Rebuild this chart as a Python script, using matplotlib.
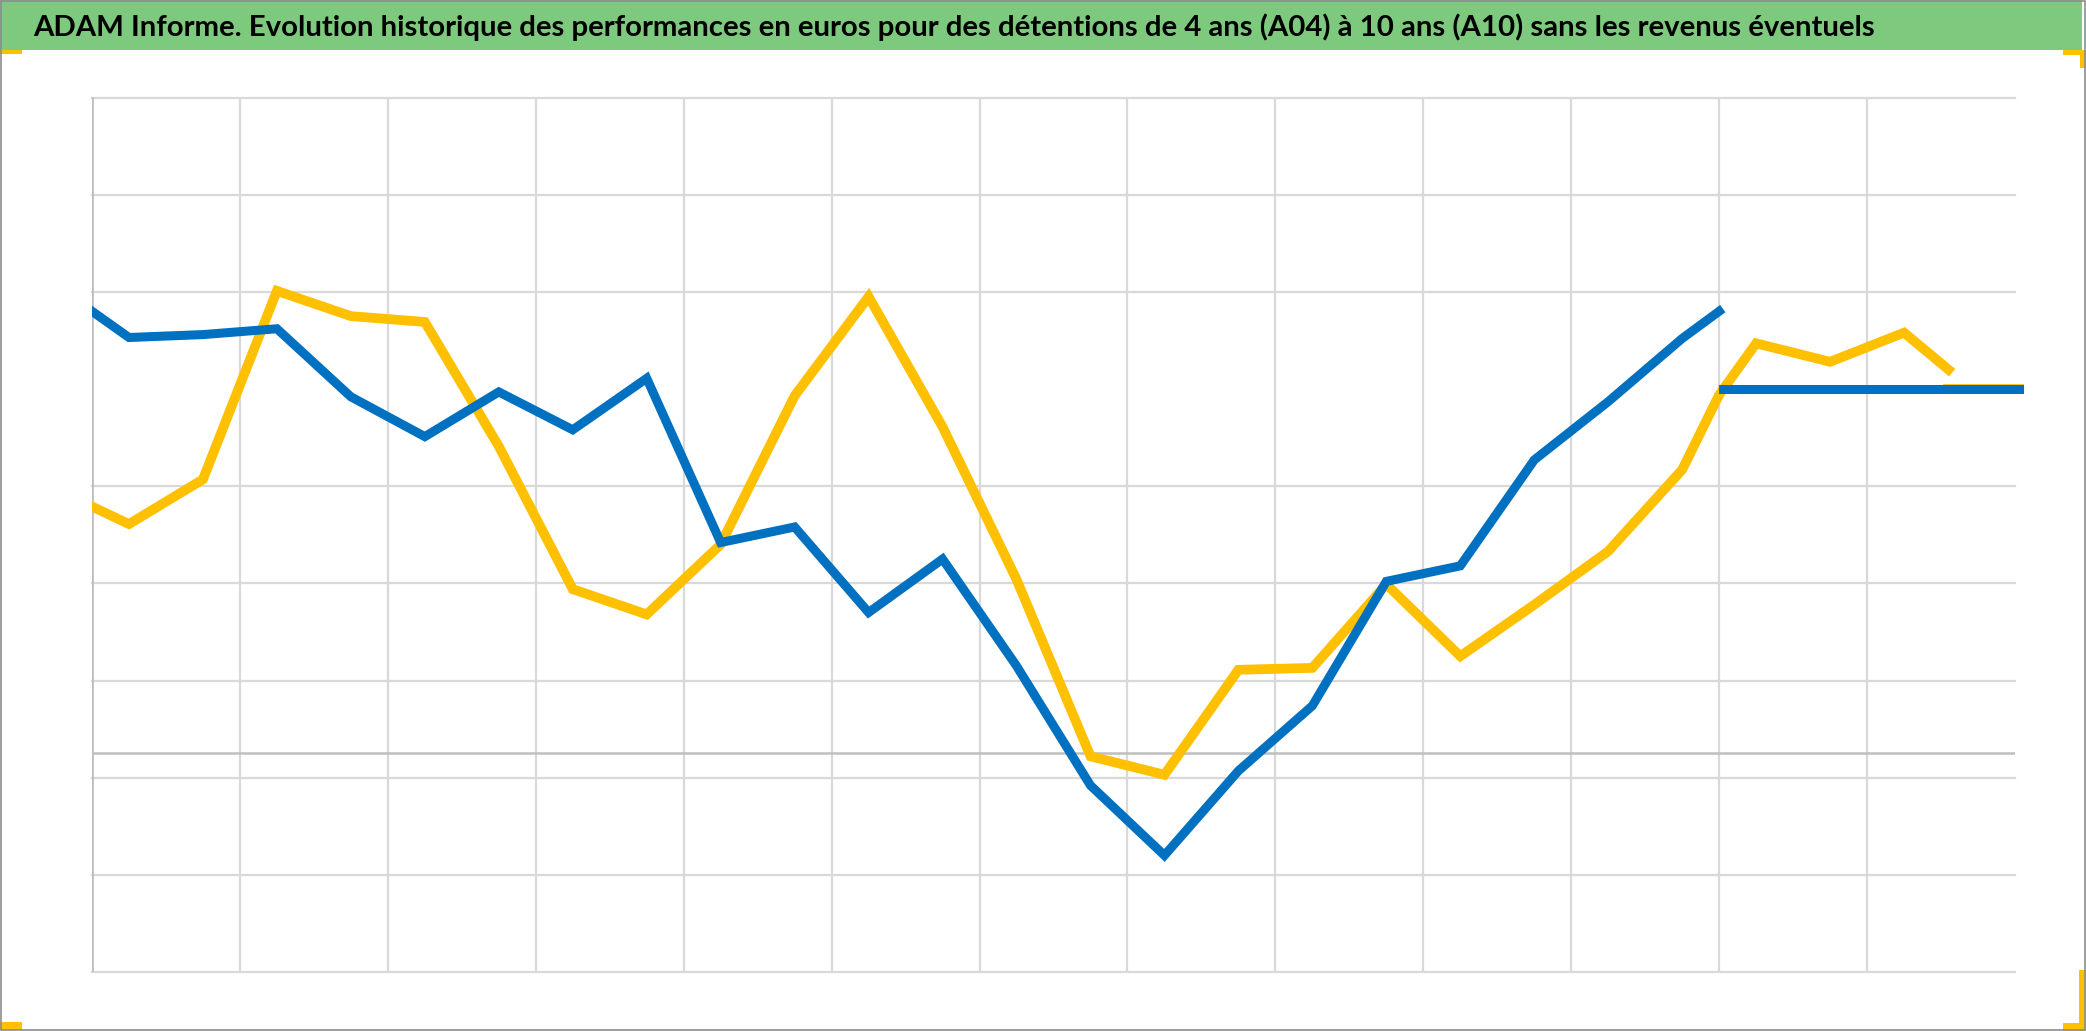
import matplotlib
matplotlib.use("Agg")
import matplotlib.pyplot as plt
from matplotlib.patches import Rectangle

# x positions in half-gridline steps, y in gridline steps (no axis labels shown in the source)
blue_x = [0, 0.5, 1.5, 2.5, 3.5, 4.5, 5.5, 6.5, 7.5, 8.5, 9.5, 10.5, 11.5,
          12.5, 13.5, 14.5, 15.5, 16.5, 17.5, 18.5, 19.5, 20.5, 21.5, 22.0]
blue_y = [6.80, 6.53, 6.56, 6.62, 5.92, 5.51, 5.97, 5.58, 6.11, 4.42, 4.58, 3.70, 4.25,
          3.15, 1.92, 1.20, 2.07, 2.74, 4.02, 4.18, 5.27, 5.87, 6.52, 6.80]

yellow_x = [0, 0.5, 1.5, 2.5, 3.5, 4.5, 5.5, 6.5, 7.5, 8.5, 9.5, 10.5, 11.5,
            12.5, 13.5, 14.5, 15.5, 16.5, 17.5, 18.5, 19.5, 20.5, 21.5, 22.0,
            22.5, 23.5, 24.5, 25.1]
yellow_y = [4.79, 4.61, 5.07, 7.01, 6.75, 6.69, 5.41, 3.94, 3.68, 4.40, 5.93, 6.95, 5.61,
            4.04, 2.22, 2.03, 3.11, 3.13, 3.99, 3.25, 3.78, 4.33, 5.17, 5.94,
            6.47, 6.28, 6.58, 6.20]

# flat tails at the end of both series
blue_tail_x = [22.05, 26.05]
blue_tail_y = [6.0, 6.0]
yellow_tail_x = [25.1, 26.05]
yellow_tail_y = [6.0, 6.0]

grid_y = [0, 1, 2, 3, 4, 5, 7, 8, 9]
grid_x = [2, 4, 6, 8, 10, 12, 14, 16, 18, 20, 22, 24]
axis_y = 2.25

title = ("ADAM Informe. Evolution historique des performances en euros pour des "
         "détentions de 4 ans (A04) à 10 ans (A10) sans les revenus éventuels")

BLUE = "#0070C0"
YELLOW = "#FFC000"
GREEN = "#7DC97D"

fig = plt.figure(figsize=(20.86, 10.31), dpi=100)
W, H = 2086, 1031

# title bar
fig.patches.append(Rectangle((0, 1 - 50 / H), 2082 / W, 50 / H, transform=fig.transFigure,
                             facecolor=GREEN, edgecolor="none", zorder=0))
t = fig.text(33 / W, 1 - 27 / H, title, fontsize=22, fontweight="bold",
             family=["Lato", "DejaVu Sans"], va="center", ha="left")
# squeeze the title to the width it has in the source
r = fig.canvas.get_renderer()
tw = t.get_window_extent(r).width
t.set_fontsize(22 * 1844 / tw)

# orange corner marks and outer frame
for (x0, y0, w, h) in [(0, 50, 22, 4), (0, 1022, 22, 8), (2063, 1023, 23, 8),
                       (2079, 970, 7, 61), (2063, 50, 23, 5), (2080, 50, 6, 18)]:
    fig.patches.append(Rectangle((x0 / W, 1 - (y0 + h) / H), w / W, h / H,
                                 transform=fig.transFigure, facecolor=YELLOW,
                                 edgecolor="none", zorder=2))
fig.patches.append(Rectangle((0.0005, 0.0005), 0.999, 0.999, transform=fig.transFigure,
                             facecolor="none", edgecolor="#8C8C8C", linewidth=1.2, zorder=3))

ax = fig.add_axes([92 / W, 1 - 972 / H, 1923 / W, (972 - 97.5) / H])
ax.set_xlim(0, 26)
ax.set_ylim(0, 9)

for gy in grid_y:
    ax.axhline(gy, color="#D9D9D9", linewidth=1.6, zorder=1, clip_on=False)
for gx in grid_x:
    ax.axvline(gx, color="#D9D9D9", linewidth=1.6, zorder=1)
ax.axhline(axis_y, color="#BFBFBF", linewidth=1.8, zorder=1)
ax.axvline(0, color="#BFBFBF", linewidth=2.0, zorder=1)

ax.plot(yellow_x, yellow_y, color=YELLOW, linewidth=7, solid_joinstyle="miter", zorder=3)
ax.plot(yellow_tail_x, yellow_tail_y, color=YELLOW, linewidth=7, zorder=3, clip_on=False)
ax.plot(blue_x, blue_y, color=BLUE, linewidth=6.5, solid_joinstyle="miter", zorder=4)
ax.plot(blue_tail_x, blue_tail_y, color=BLUE, linewidth=6.5, zorder=4, clip_on=False)

ax.set_xticks([])
ax.set_yticks([])
for s in ax.spines.values():
    s.set_visible(False)
ax.patch.set_alpha(0)

fig.savefig("out.png", dpi=100, facecolor="white")
